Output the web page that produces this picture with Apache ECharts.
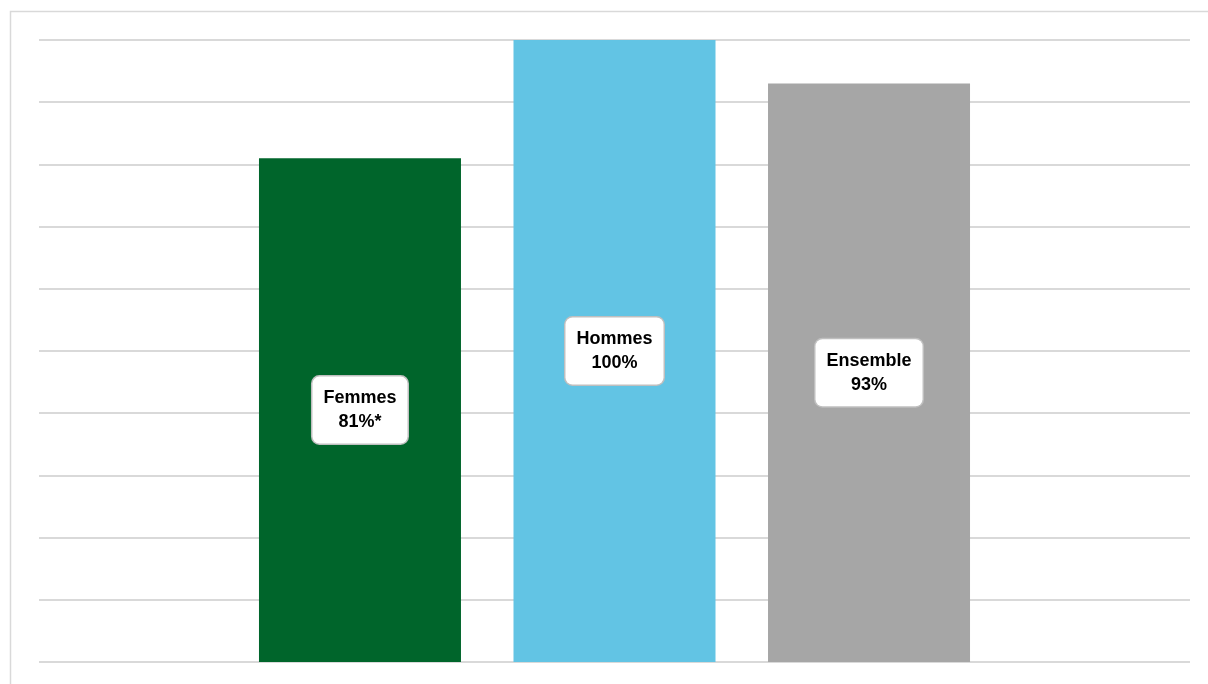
<!DOCTYPE html>
<html>
<head>
<meta charset="utf-8">
<script src="https://cdn.jsdelivr.net/npm/echarts@6/dist/echarts.min.js"></script>
<style>
html,body{margin:0;padding:0;background:#fff;}
#c{width:1208px;height:684px;}
</style>
</head>
<body>
<div id="c"></div>
<script>
const seriesNames = ['Femmes', 'Hommes', 'Ensemble'];
const seriesValues = [81, 100, 93];
const labelSuffix = ['*', '', ''];
const seriesColors = ['#00652b', '#62c4e4', '#a6a6a6'];
const yTicks = [0, 10, 20, 30, 40, 50, 60, 70, 80, 90, 100];

const chart = echarts.init(document.getElementById('c'), null, {renderer: 'canvas'});
const series = seriesNames.map((name, i) => ({
  name: name,
  type: 'bar',
  data: [seriesValues[i]],
  barWidth: 202,
  barGap: '26%',
  itemStyle: {color: seriesColors[i]},
  label: {
    show: true,
    position: 'inside',
    formatter: (p) => p.seriesName + '\n' + p.value + '%' + labelSuffix[i],
    backgroundColor: '#ffffff',
    borderColor: '#bfbfbf',
    borderWidth: 1.5,
    borderRadius: 7,
    padding: [10, 11, 9, 11],
    color: '#000',
    fontFamily: 'Liberation Sans, Arial, sans-serif',
    fontWeight: 'bold',
    fontSize: 18,
    lineHeight: 24,
    align: 'center'
  }
}));

chart.setOption({
  animation: false,
  graphic: [{
    type: 'rect',
    shape: {x: 10.5, y: 11.5, width: 1210, height: 690},
    style: {fill: 'none', stroke: '#d9d9d9', lineWidth: 1.5},
    silent: true
  }],
  grid: {left: 39, right: 18, top: 40, bottom: 22, containLabel: false},
  xAxis: {
    type: 'category',
    data: [''],
    axisLine: {show: false},
    axisTick: {show: false},
    axisLabel: {show: false}
  },
  yAxis: {
    type: 'value',
    min: yTicks[0],
    max: yTicks[yTicks.length - 1],
    interval: yTicks[1] - yTicks[0],
    axisLine: {show: false},
    axisTick: {show: false},
    axisLabel: {show: false},
    splitLine: {lineStyle: {color: '#d9d9d9', width: 2}}
  },
  series: series
});
</script>
</body>
</html>
